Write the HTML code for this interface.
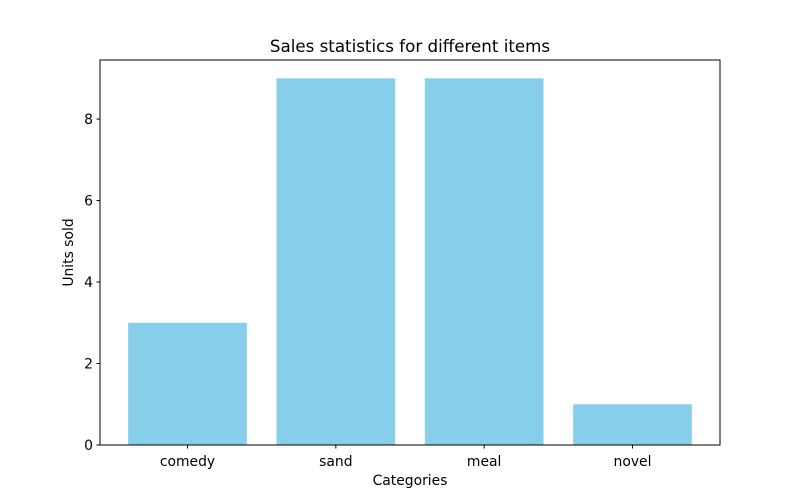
<!DOCTYPE html>
<html><head><meta charset="utf-8"><style>
body{margin:0;background:#fff;}
svg{display:block;font-family:"DejaVu Sans","Liberation Sans",sans-serif;}
</style></head><body>
<svg id="chart" width="800" height="500">
<rect width="800" height="500" fill="#fff"/>
<text x="410" y="52" text-anchor="middle" font-size="16.7">Sales statistics for different items</text>
<g id="bars"></g>
<g id="axes"></g>
<rect x="100" y="60" width="620" height="385" fill="none" stroke="#000" stroke-width="1"/>
<text x="410" y="485" text-anchor="middle" font-size="13.9">Categories</text>
<text transform="translate(73,252.5) rotate(-90)" text-anchor="middle" font-size="13.9">Units sold</text>
</svg>
<script>
const categories = ["comedy","sand","meal","novel"];
const values = [3,9,9,1];
const yTicks = [0,2,4,6,8];

const L=100,R=720,T=60,B=445;
const ns="http://www.w3.org/2000/svg";
const yMax=Math.max(...values)*1.05;
const xMin=-0.4-0.05*(categories.length-1+0.8), xMax=categories.length-1+0.4+0.05*(categories.length-1+0.8);
const xs=v=>L+(v-xMin)/(xMax-xMin)*(R-L);
const ys=v=>B-v/yMax*(B-T);
const bars=document.getElementById('bars'), axes=document.getElementById('axes');
function mk(t,a,p){const e=document.createElementNS(ns,t);for(const k in a)e.setAttribute(k,a[k]);p.appendChild(e);return e;}
categories.forEach((c,i)=>{
  const r=mk('rect',{x:xs(i-0.4),y:ys(values[i]),width:xs(i+0.4)-xs(i-0.4),height:B-ys(values[i]),fill:'#87ceeb'},bars);
  
  
  const tk=mk('line',{x1:xs(i),x2:xs(i),y1:B,y2:B+3.5,stroke:'#000'},axes);
  
  
  const t=mk('text',{x:xs(i),y:B+21,'text-anchor':'middle','font-size':13.9},axes);
  t.textContent=c;
  
  
});
yTicks.forEach(v=>{
  const tk=mk('line',{x1:L-3.5,x2:L,y1:ys(v),y2:ys(v),stroke:'#000'},axes);
  
  
  const t=mk('text',{x:L-7,y:ys(v)+5,'text-anchor':'end','font-size':13.9},axes);
  t.textContent=v;
  
  
});
</script>
</body></html>
